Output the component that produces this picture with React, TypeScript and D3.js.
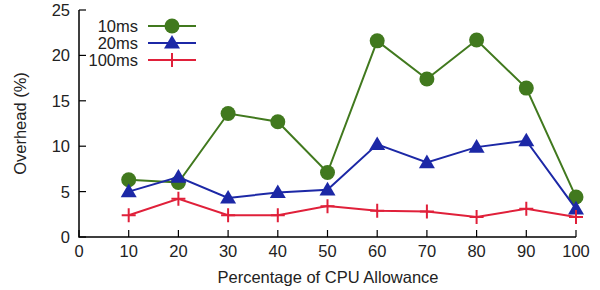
import React from "react";
import * as d3 from "d3";

const xCats = [10, 20, 30, 40, 50, 60, 70, 80, 90, 100];
const s10 = [6.3, 6.0, 13.6, 12.7, 7.1, 21.6, 17.4, 21.7, 16.4, 4.4];
const s20 = [5.0, 6.6, 4.3, 4.9, 5.2, 10.2, 8.2, 9.9, 10.6, 3.1];
const s100 = [2.4, 4.2, 2.4, 2.4, 3.4, 2.9, 2.8, 2.2, 3.1, 2.2];
const xTicks = [0, 10, 20, 30, 40, 50, 60, 70, 80, 90, 100];
const yTicks = [0, 5, 10, 15, 20, 25];
const seriesNames = ["10ms", "20ms", "100ms"];
const colors = ["#41791e", "#1c28a6", "#e0203a"];

const W = 600, H = 290;
const left = 79, right = 576, top = 10, bottom = 237;
const FS = 16.5;

export default function App() {
  const x = d3.scaleLinear().domain([0, 100]).range([left, right]);
  const y = d3.scaleLinear().domain([0, 25]).range([bottom, top]);
  const line = d3.line<number>().x((_, i) => x(xCats[i])).y((d) => y(d));
  const all = [s10, s20, s100];
  const font = "'Liberation Sans', Arial, sans-serif";

  const marker = (k: number, cx: number, cy: number, key: string) => {
    const c = colors[k];
    if (k === 0) return <circle key={key} cx={cx} cy={cy} r={7.5} fill={c} />;
    if (k === 1) {
      const s = 8;
      return (
        <path key={key} d={`M${cx},${cy - s}L${cx + s},${cy + s * 0.7}L${cx - s},${cy + s * 0.7}Z`} fill={c} />
      );
    }
    return (
      <path key={key} d={`M${cx - 7},${cy}H${cx + 7}M${cx},${cy - 7}V${cy + 7}`} stroke={c} strokeWidth={2} />
    );
  };

  return (
    <svg width={W} height={H} style={{ position: "absolute", left: 0, top: 0 }} fontFamily={font} fill="#222">
      <rect width={W} height={H} fill="#fff" />
      <path d={`M${left},${top}V${bottom}H${right}`} fill="none" stroke="#000" strokeWidth={1.5} />
      {yTicks.map((t) => (
        <g key={"y" + t}>
          <line x1={left} x2={left + 7} y1={y(t)} y2={y(t)} stroke="#000" strokeWidth={1.2} />
          <text x={left - 9} y={y(t)} dy="0.36em" textAnchor="end" fontSize={FS}>{t}</text>
        </g>
      ))}
      {xTicks.map((t) => (
        <g key={"x" + t}>
          <line x1={x(t)} x2={x(t)} y1={bottom} y2={bottom - 7} stroke="#000" strokeWidth={1.2} />
          <text x={x(t)} y={bottom + 20} textAnchor="middle" fontSize={FS}>{t}</text>
        </g>
      ))}
      <text x={328} y={283} textAnchor="middle" fontSize={FS}>Percentage of CPU Allowance</text>
      <text transform={`translate(26,${(top + bottom) / 2}) rotate(-90)`} textAnchor="middle" fontSize={FS}>Overhead (%)</text>
      {all.map((s, k) => (
        <g key={"s" + k}>
          <path d={line(s) || ""} fill="none" stroke={colors[k]} strokeWidth={2} />
          {s.map((v, i) => marker(k, x(xCats[i]), y(v), `m${k}-${i}`))}
        </g>
      ))}
      {seriesNames.map((n, k) => {
        const ly = 26 + k * 17;
        return (
          <g key={"l" + k}>
            <text x={138} y={ly} dy="0.36em" textAnchor="end" fontSize={FS}>{n}</text>
            <line x1={148} x2={196} y1={ly} y2={ly} stroke={colors[k]} strokeWidth={2} />
            {marker(k, 172, ly, "lm" + k)}
          </g>
        );
      })}
    </svg>
  );
}
